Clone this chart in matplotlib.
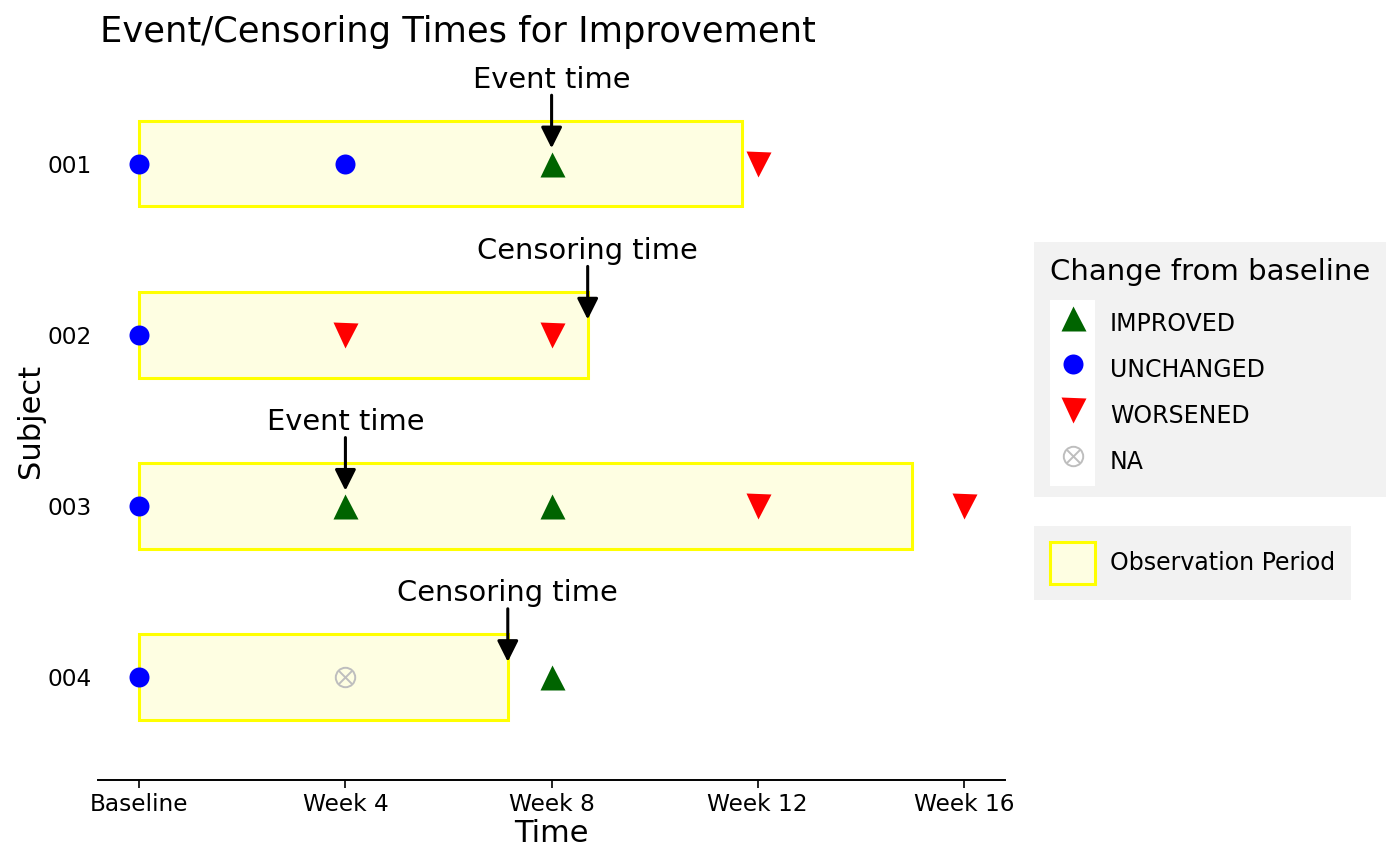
import matplotlib.pyplot as plt
from matplotlib.patches import Rectangle, Patch
from matplotlib.lines import Line2D
from matplotlib.path import Path
from matplotlib.legend_handler import HandlerLine2D

# subjects and observation periods (weeks)
subjects = ['001', '002', '003', '004']
obs_end = [11.7, 8.7, 15.0, 7.15]

# visits: subject index, week, status
visit_subj = [1, 1, 1, 1, 2, 2, 2, 3, 3, 3, 3, 3, 4, 4, 4]
visit_week = [0, 4, 8, 12, 0, 4, 8, 0, 4, 8, 12, 16, 0, 4, 8]
visit_status = ['UNCHANGED', 'UNCHANGED', 'IMPROVED', 'WORSENED',
                'UNCHANGED', 'WORSENED', 'WORSENED',
                'UNCHANGED', 'IMPROVED', 'IMPROVED', 'WORSENED', 'WORSENED',
                'UNCHANGED', 'NA', 'IMPROVED']

# event / censoring annotations
evt_time = [8, 8.7, 4, 7.15]
evt_label = ['Event time', 'Censoring time', 'Event time', 'Censoring time']

week_ticks = [0, 4, 8, 12, 16]
week_labels = ['Baseline', 'Week 4', 'Week 8', 'Week 12', 'Week 16']

# circle with an x inside for NA
d = 0.7071
xpath = Path([(-d, -d), (d, d), (-d, d), (d, -d)],
             [Path.MOVETO, Path.LINETO, Path.MOVETO, Path.LINETO])
na_marker = Path.make_compound_path(Path.unit_circle(), xpath)

styles = {
    'IMPROVED': dict(marker='^', color='darkgreen', ms=9),
    'UNCHANGED': dict(marker='o', color='blue', ms=7.2),
    'WORSENED': dict(marker='v', color='red', ms=9),
    'NA': dict(marker=na_marker, color='#BEBEBE', ms=7),
}


def marker_line(st):
    sty = styles[st]
    kw = dict(linestyle='none', marker=sty['marker'], ms=sty['ms'])
    if st == 'NA':
        kw.update(mfc='none', mec=sty['color'], mew=0.7)
    else:
        kw.update(color=sty['color'], mec='none')
    return kw


# legend key with white background like ggplot
class KeyBg(HandlerLine2D):
    def create_artists(self, legend, orig_handle, xdescent, ydescent,
                       width, height, fontsize, trans):
        pad = legend.labelspacing * fontsize / 2 + 0.3
        bg = Rectangle((-xdescent, -ydescent - pad), width, height + 2 * pad,
                       facecolor='white', edgecolor='none', transform=trans)
        arts = super().create_artists(legend, orig_handle, xdescent, ydescent,
                                      width, height, fontsize, trans)
        return [bg] + list(arts)


fig = plt.figure(figsize=(7, 4.325), dpi=200)
ax = fig.add_axes([0.07, 0.0983, 0.648, 0.8312])

# observation period boxes
for i, s in enumerate(subjects):
    ax.add_patch(Rectangle((0, i + 1 - 0.25), obs_end[i], 0.5,
                           facecolor='#FEFEE2', edgecolor='yellow', lw=1.1, zorder=1))

# visit points
for subj, wk, st in zip(visit_subj, visit_week, visit_status):
    ax.plot(wk, subj, zorder=3, **marker_line(st))

# arrows
for i in range(len(subjects)):
    ax.annotate('', xy=(evt_time[i], i + 1 - 0.09), xytext=(evt_time[i], i + 1 - 0.40),
                arrowprops=dict(arrowstyle='-|>', color='black', lw=1.1,
                                mutation_scale=16, shrinkA=0, shrinkB=0), zorder=4)
    ax.text(evt_time[i], i + 1 - 0.41, evt_label[i], ha='center', va='bottom',
            fontsize=10.4)

ax.set_xlim(-0.8, 16.8)
ax.set_ylim(4.6, 0.4)
ax.set_xticks(week_ticks)
ax.set_xticklabels(week_labels, fontsize=8.4)
ax.set_yticks([1, 2, 3, 4])
ax.set_yticklabels(subjects, fontsize=8.4)
ax.tick_params(axis='y', length=0, pad=2.2)
ax.tick_params(axis='x', length=2.75, width=0.6, pad=2)
for sp in ['top', 'right', 'left']:
    ax.spines[sp].set_visible(False)
ax.spines['bottom'].set_linewidth(0.7)
ax.set_xlabel('Time', fontsize=11, labelpad=1)
ax.set_ylabel('Subject', fontsize=11, labelpad=1)
ax.set_title('Event/Censoring Times for Improvement', fontsize=12.7, loc='left',
             x=0.002, pad=6.8)

# legends
status_order = ['IMPROVED', 'UNCHANGED', 'WORSENED', 'NA']
handles = [Line2D([], [], **marker_line(st)) for st in status_order]

leg1 = fig.legend(handles, status_order,
                  handler_map={Line2D: KeyBg(numpoints=1)},
                  title='Change from baseline', title_fontsize=10.5, fontsize=8.5,
                  loc='upper left', bbox_to_anchor=(0.7386, 0.7202), borderaxespad=0,
                  frameon=True, facecolor='#F2F2F2', edgecolor='none',
                  fancybox=False, framealpha=1, alignment='left',
                  handlelength=1.9, handleheight=2.16, labelspacing=0.3,
                  handletextpad=0.64, borderpad=0.68)
# more room between title and keys
leg1._legend_box.sep = 6.6

obs_handle = Patch(facecolor='#FEFEE2', edgecolor='yellow', lw=1.1)
leg2 = fig.legend([obs_handle], ['Observation Period'], fontsize=8.5,
                  loc='upper left', bbox_to_anchor=(0.7386, 0.3919), borderaxespad=0,
                  frameon=True, facecolor='#F2F2F2', edgecolor='none',
                  fancybox=False, framealpha=1,
                  handlelength=1.9, handleheight=2.36,
                  handletextpad=0.64, borderpad=0.68)

fig.savefig('out.png', dpi=200)
